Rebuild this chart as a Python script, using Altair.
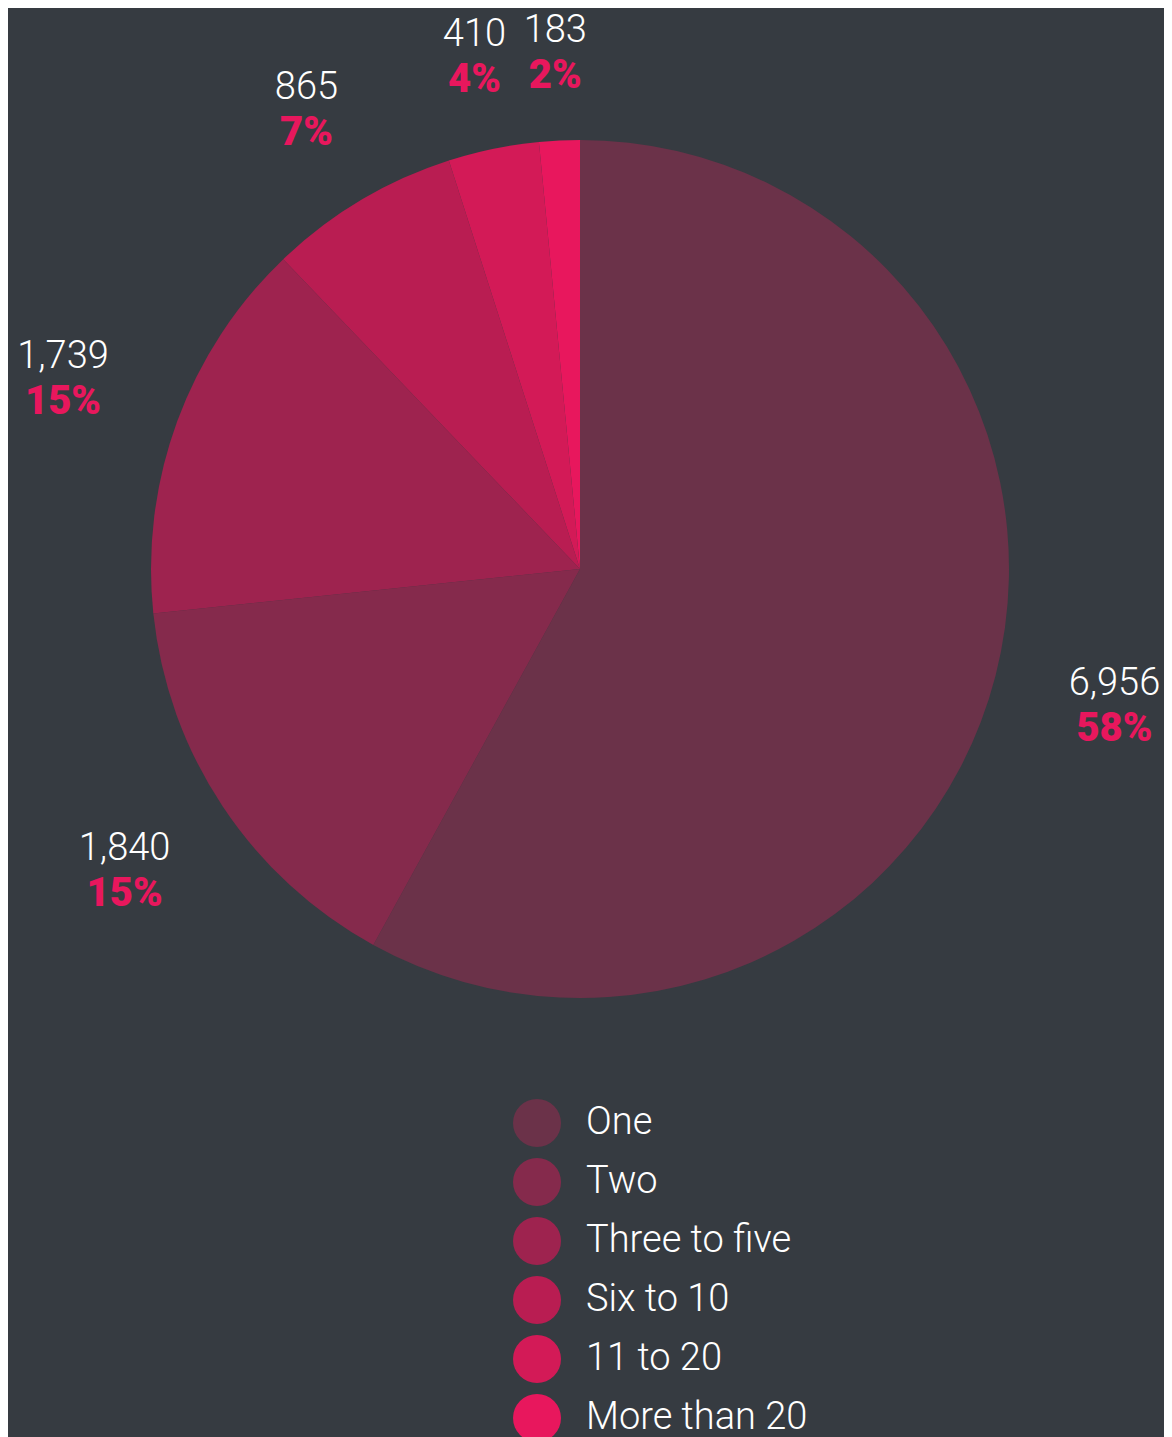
import altair as alt
import pandas as pd

categories = ["One", "Two", "Three to five", "Six to 10", "11 to 20", "More than 20"]
counts = [6956, 1840, 1739, 865, 410, 183]
percent_labels = ["58%", "15%", "15%", "7%", "4%", "2%"]
colors = ["#6b3249", "#852a4c", "#9e234f", "#b91d52", "#d31a57", "#e8175d"]

df = pd.DataFrame({
    "category": categories,
    "count": counts,
    "pct": percent_labels,
    "order": list(range(len(categories))),
})

BG = "#363b41"
CX, CY = 572, 561
R = 429
FONT = "Roboto"

pie = alt.Chart(df).mark_arc(outerRadius=R, strokeWidth=0).encode(
    theta=alt.Theta("count:Q", stack=True),
    order=alt.Order("order:Q"),
    x=alt.value(CX),
    y=alt.value(CY),
    color=alt.Color(
        "category:N",
        scale=alt.Scale(domain=categories, range=colors),
        sort=categories,
        legend=alt.Legend(
            title=None,
            orient="none",
            legendX=505,
            legendY=1091,
            symbolType="circle",
            symbolSize=2304,
            symbolStrokeWidth=0,
            symbolOpacity=1,
            labelFontSize=38,
            labelFont=FONT,
            labelFontWeight=300,
            labelColor="white",
            labelOffset=25,
            rowPadding=11,
            labelLimit=600,
        ),
    ),
)

label_base = alt.Chart(df).transform_joinaggregate(
    total="sum(count)"
).transform_window(
    cum="sum(count)", sort=[alt.SortField("order")], frame=[None, 0]
).transform_calculate(
    mid="(datum.cum - datum.count / 2) / datum.total * 2 * PI",
    lr="515 + 38 * abs(sin(datum.mid))",
).encode(
    x=alt.value(CX),
    y=alt.value(CY),
    theta=alt.Theta("mid:Q", scale=None, stack=False),
    radius=alt.Radius("lr:Q", scale=None),
)

values = label_base.mark_text(
    dy=-22, font=FONT, fontSize=38, fontWeight=300, color="white"
).encode(
    text=alt.Text("count:Q", format=","),
)

pcts = label_base.mark_text(
    dy=23, font=FONT, fontSize=40, fontWeight=900, color="#e8175d"
).encode(
    text=alt.Text("pct:N"),
)

chart = (
    alt.layer(pie, values, pcts)
    .resolve_scale(theta="independent", radius="independent")
    .properties(
        width=1156,
        height=1429,
        background=BG,
        padding=0,
        autosize=alt.AutoSizeParams(type="none"),
    )
    .configure_view(strokeWidth=0)
)

chart.save("out.html", embed_options={"renderer": "svg", "actions": False})
